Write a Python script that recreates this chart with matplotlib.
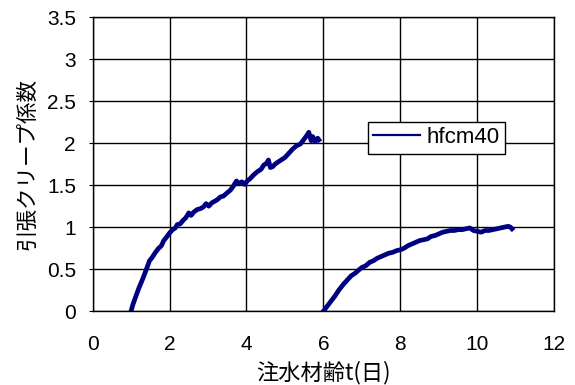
import matplotlib.pyplot as plt

plt.rcParams['font.family'] = ['Liberation Sans', 'Noto Sans CJK JP', 'DejaVu Sans']

# 注水1日目からの引張クリープ係数
t1 = [1.00, 1.05, 1.12, 1.20, 1.30, 1.40, 1.48, 1.55, 1.62, 1.70, 1.79, 1.85,
      1.92, 2.00, 2.08, 2.15, 2.20, 2.28, 2.35, 2.42, 2.50, 2.56, 2.63, 2.72,
      2.80, 2.88, 2.95, 3.02, 3.10, 3.18, 3.25, 3.32, 3.40, 3.50, 3.58, 3.66,
      3.74, 3.80, 3.88, 3.95, 4.02, 4.10, 4.18, 4.28, 4.38, 4.45, 4.52, 4.57,
      4.62, 4.68, 4.74, 4.80, 4.90, 5.00, 5.10, 5.20, 5.30, 5.40, 5.50, 5.58,
      5.62, 5.68, 5.72, 5.78, 5.85, 5.88]
phi1 = [0.00, 0.08, 0.17, 0.27, 0.38, 0.50, 0.60, 0.64, 0.69, 0.74, 0.78, 0.84,
        0.88, 0.93, 0.97, 0.99, 1.03, 1.04, 1.08, 1.11, 1.17, 1.14, 1.18, 1.21,
        1.22, 1.24, 1.28, 1.25, 1.29, 1.31, 1.33, 1.36, 1.37, 1.41, 1.44, 1.49,
        1.55, 1.52, 1.54, 1.51, 1.55, 1.58, 1.62, 1.66, 1.69, 1.74, 1.76, 1.80,
        1.71, 1.72, 1.75, 1.77, 1.80, 1.83, 1.88, 1.93, 1.97, 1.99, 2.05, 2.10,
        2.13, 2.03, 2.08, 2.02, 2.06, 2.04]

# 注水6日目からの引張クリープ係数
t2 = [6.00, 6.10, 6.20, 6.30, 6.40, 6.52, 6.62, 6.72, 6.82, 6.92, 7.00, 7.10,
      7.20, 7.30, 7.40, 7.50, 7.60, 7.70, 7.80, 7.90, 8.00, 8.10, 8.20, 8.30,
      8.40, 8.50, 8.60, 8.70, 8.80, 8.90, 9.00, 9.10, 9.20, 9.30, 9.40, 9.50,
      9.60, 9.70, 9.80, 9.90, 10.00, 10.10, 10.20, 10.30, 10.40, 10.50, 10.60,
      10.70, 10.80, 10.86, 10.90]
phi2 = [0.00, 0.06, 0.12, 0.18, 0.25, 0.32, 0.37, 0.42, 0.45, 0.49, 0.52, 0.54,
        0.58, 0.60, 0.63, 0.65, 0.67, 0.69, 0.70, 0.72, 0.73, 0.75, 0.78, 0.80,
        0.82, 0.84, 0.85, 0.86, 0.89, 0.90, 0.92, 0.94, 0.95, 0.96, 0.96, 0.97,
        0.97, 0.98, 0.99, 0.96, 0.95, 0.94, 0.96, 0.96, 0.97, 0.98, 0.99,
        1.00, 1.01, 1.00, 0.98]

xticks = [0, 2, 4, 6, 8, 10, 12]
yticks = [0, 0.5, 1, 1.5, 2, 2.5, 3, 3.5]
ytick_labels = ['0', '0.5', '1', '1.5', '2', '2.5', '3', '3.5']

jp = ['Noto Sans CJK JP', 'DejaVu Sans']

fig = plt.figure(figsize=(5.75, 3.85), dpi=100)
ax = fig.add_axes([0.161, 0.192, 0.803, 0.763])

color = '#000080'
ax.plot(t1, phi1, color=color, lw=3.4, label='hfcm40')
ax.plot(t2, phi2, color=color, lw=3.4)

ax.set_xlim(0, 12)
ax.set_ylim(0, 3.5)
ax.set_xticks(xticks)
ax.set_yticks(yticks)
ax.set_yticklabels(ytick_labels)
ax.grid(True, color='black', lw=1.0)
ax.tick_params(axis='x', length=0, pad=17, labelsize=15)
ax.tick_params(axis='y', length=3, direction='out', pad=9, labelsize=15)
for s in ax.spines.values():
    s.set_color('black')
    s.set_linewidth(1.0)

ax.set_xlabel('注水材齢t(日)', fontsize=16, labelpad=5, family=jp)
ax.set_ylabel('引張クリープ係数', fontsize=15.5, labelpad=6, family=jp)

leg = ax.legend(loc='upper left', bbox_to_anchor=(0.596, 0.645), fontsize=16,
                frameon=True, fancybox=False, handlelength=2.1,
                borderpad=0.25, handletextpad=0.3, borderaxespad=0)
leg.get_frame().set_edgecolor('black')
leg.get_frame().set_linewidth(1.0)
leg.get_frame().set_alpha(1.0)
for h in leg.get_lines():
    h.set_linewidth(1.6)

fig.savefig('out.png', dpi=100)
